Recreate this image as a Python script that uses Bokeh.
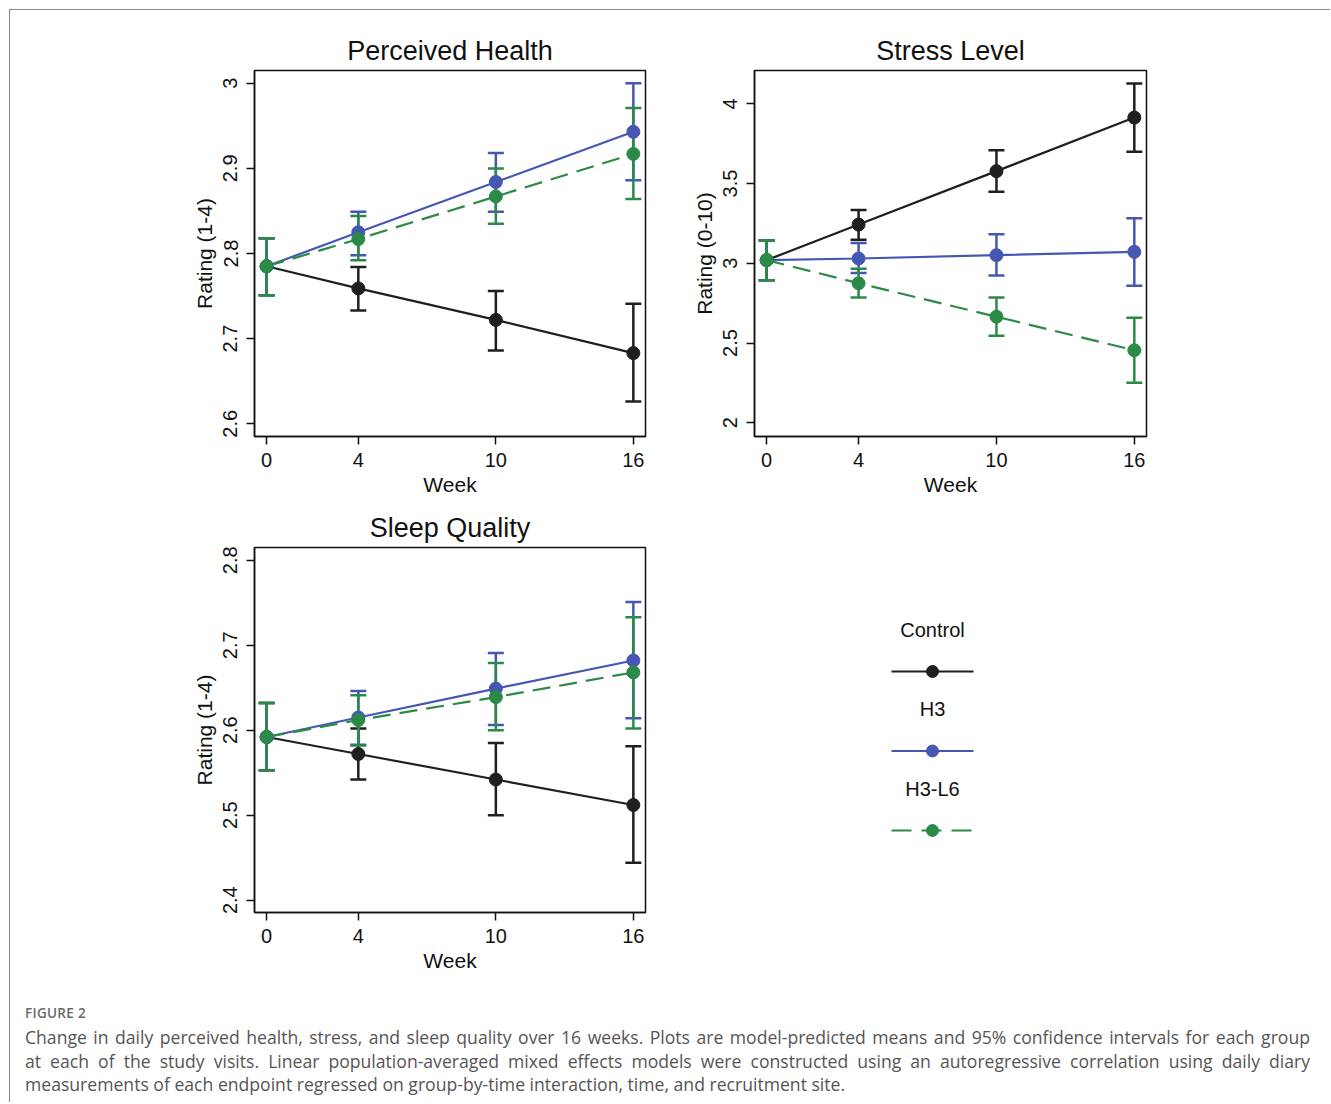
import math
from bokeh.plotting import figure
from bokeh.layouts import column, row
from bokeh.models import (ColumnDataSource, Whisker, TeeHead, Range1d, FixedTicker, Div)
from bokeh.embed import file_html
from bokeh.resources import INLINE
from bokeh.core.properties import value

# ---------------- data ----------------
weeks = [0, 4, 10, 16]
week_labels = ["0", "4", "10", "16"]
groups = ["Control", "H3", "H3-L6"]

# Perceived Health
ph_control = [2.785, 2.759, 2.722, 2.683]
ph_control_lo = [2.751, 2.733, 2.686, 2.626]
ph_control_hi = [2.818, 2.784, 2.756, 2.741]
ph_h3 = [2.785, 2.825, 2.884, 2.943]
ph_h3_lo = [2.751, 2.798, 2.849, 2.886]
ph_h3_hi = [2.818, 2.849, 2.918, 3.000]
ph_h3l6 = [2.785, 2.817, 2.867, 2.917]
ph_h3l6_lo = [2.751, 2.792, 2.835, 2.864]
ph_h3l6_hi = [2.818, 2.844, 2.900, 2.971]
ph_ticks = [2.6, 2.7, 2.8, 2.9, 3.0]
ph_tick_labels = ["2.6", "2.7", "2.8", "2.9", "3"]

# Stress Level
sl_control = [3.02, 3.243, 3.578, 3.914]
sl_control_lo = [2.894, 3.147, 3.448, 3.699]
sl_control_hi = [3.143, 3.335, 3.709, 4.127]
sl_h3 = [3.02, 3.03, 3.051, 3.072]
sl_h3_lo = [2.894, 2.94, 2.924, 2.859]
sl_h3_hi = [3.143, 3.128, 3.182, 3.283]
sl_h3l6 = [3.02, 2.875, 2.665, 2.455]
sl_h3l6_lo = [2.894, 2.786, 2.545, 2.251]
sl_h3l6_hi = [3.143, 2.966, 2.786, 2.658]
sl_ticks = [2.0, 2.5, 3.0, 3.5, 4.0]
sl_tick_labels = ["2", "2.5", "3", "3.5", "4"]

# Sleep Quality
sq_control = [2.592, 2.572, 2.542, 2.512]
sq_control_lo = [2.553, 2.542, 2.500, 2.444]
sq_control_hi = [2.632, 2.602, 2.585, 2.581]
sq_h3 = [2.592, 2.615, 2.649, 2.682]
sq_h3_lo = [2.553, 2.583, 2.606, 2.614]
sq_h3_hi = [2.632, 2.646, 2.691, 2.751]
sq_h3l6 = [2.592, 2.612, 2.639, 2.668]
sq_h3l6_lo = [2.553, 2.582, 2.600, 2.602]
sq_h3l6_hi = [2.632, 2.641, 2.679, 2.733]
sq_ticks = [2.4, 2.5, 2.6, 2.7, 2.8]
sq_tick_labels = ["2.4", "2.5", "2.6", "2.7", "2.8"]

caption_title = "FIGURE 2"
caption_lines = [
    "Change in daily perceived health, stress, and sleep quality over 16 weeks. "
    "Plots are model-predicted means and 95% confidence intervals for each group",
    "at each of the study visits. Linear population-averaged mixed effects models "
    "were constructed using an autoregressive correlation using daily diary",
    "measurements of each endpoint regressed on group-by-time interaction, time, "
    "and recruitment site.",
]

# ---------------- styles ----------------
COLORS = {"Control": "#1f1f1f", "H3": "#4657b3", "H3-L6": "#2b8a47"}
DASH = {"Control": "solid", "H3": "solid", "H3-L6": "18 9"}
FONT = "Liberation Sans"


def make_panel(title, ylabel, yr, ticks, tick_labels, series, width, height,
               mb_left, mb_right, mb_top, mb_bottom):
    p = figure(width=width, height=height, output_backend="svg", toolbar_location=None,
               x_range=Range1d(-0.53, 16.53), y_range=Range1d(*yr),
               min_border_left=mb_left, min_border_right=mb_right,
               min_border_top=mb_top, min_border_bottom=mb_bottom,
               title=title)
    p.title.text_font = FONT
    p.title.text_font_size = "27px"
    p.title.text_font_style = "normal"
    p.title.align = "center"
    p.title.text_color = "#111111"
    p.title.standoff = 10
    p.grid.visible = False
    p.outline_line_color = "#111111"
    p.outline_line_width = 1.5
    p.background_fill_color = "white"
    p.border_fill_color = "white"

    p.xaxis.ticker = FixedTicker(ticks=weeks)
    p.xaxis.major_label_overrides = {w: l for w, l in zip(weeks, week_labels)}
    p.xaxis.axis_label = "Week"
    p.yaxis.ticker = FixedTicker(ticks=ticks)
    p.yaxis.major_label_overrides = {t: l for t, l in zip(ticks, tick_labels)}
    p.yaxis.axis_label = ylabel
    p.yaxis.major_label_orientation = "parallel"
    for ax in (p.xaxis, p.yaxis):
        ax.axis_label_text_font = FONT
        ax.axis_label_text_font_size = "21px"
        ax.axis_label_text_font_style = "normal"
        ax.axis_label_text_color = "#111111"
        ax.major_label_text_font = FONT
        ax.major_label_text_font_size = "20px"
        ax.major_label_text_color = "#111111"
        ax.axis_line_color = "#111111"
        ax.axis_line_width = 1.5
        ax.major_tick_line_color = "#111111"
        ax.major_tick_line_width = 1.5
        ax.major_tick_out = 8
        ax.major_tick_in = 0
        ax.minor_tick_line_color = None
    p.xaxis.axis_label_standoff = 3
    p.xaxis.major_label_standoff = 8
    p.yaxis.axis_label_standoff = 5
    p.yaxis.major_label_standoff = 9

    for g, (mean, lo, hi) in zip(groups, series):
        c = COLORS[g]
        src = ColumnDataSource(dict(x=weeks, y=mean, lo=lo, hi=hi))
        w = Whisker(source=src, base="x", upper="hi", lower="lo",
                    line_color=c, line_width=2.5,
                    upper_head=TeeHead(size=16, line_color=c, line_width=2.5),
                    lower_head=TeeHead(size=16, line_color=c, line_width=2.5))
        p.add_layout(w)
        p.line("x", "y", source=src, line_color=c, line_width=2.2, line_dash=DASH[g])
        p.scatter("x", "y", source=src, size=13, fill_color=c, line_color=c)
    return p


# geometry (pixels)
W1, W2 = 679, 497
H1, H3 = 489, 483

p1 = make_panel("Perceived Health", "Rating (1-4)", (2.585, 3.015), ph_ticks, ph_tick_labels,
                [(ph_control, ph_control_lo, ph_control_hi),
                 (ph_h3, ph_h3_lo, ph_h3_hi),
                 (ph_h3l6, ph_h3l6_lo, ph_h3l6_hi)],
                W1, H1, 244, 44, 60, 63)
p2 = make_panel("Stress Level", "Rating (0-10)", (1.914, 4.209), sl_ticks, sl_tick_labels,
                [(sl_control, sl_control_lo, sl_control_hi),
                 (sl_h3, sl_h3_lo, sl_h3_hi),
                 (sl_h3l6, sl_h3l6_lo, sl_h3l6_hi)],
                W2, H1, 64, 40, 60, 63)
p3 = make_panel("Sleep Quality", "Rating (1-4)", (2.3855, 2.815), sq_ticks, sq_tick_labels,
                [(sq_control, sq_control_lo, sq_control_hi),
                 (sq_h3, sq_h3_lo, sq_h3_hi),
                 (sq_h3l6, sq_h3l6_lo, sq_h3l6_hi)],
                W1, H3, 244, 44, 48, 70)

# legend panel: frame aligned with the Stress Level frame; coordinates in frame pixels, y downward
FW, FH = 393, 365
pl = figure(width=W2, height=H3, output_backend="svg", toolbar_location=None,
            x_range=Range1d(0, FW), y_range=Range1d(FH, 0),
            x_axis_location=None, y_axis_location=None,
            min_border_left=64, min_border_right=40, min_border_top=48, min_border_bottom=70,
            outline_line_color=None)
pl.grid.visible = False
cx = 179
for i, g in enumerate(groups):
    ty = 82 + i * 79.5
    ly = ty + 42
    c = COLORS[g]
    pl.text(x=[cx], y=[ty], text=[g], text_align="center", text_baseline="middle",
            text_font=value(FONT), text_font_size="20px", text_color="#111111")
    pl.line(x=[cx - 41, cx + 41], y=[ly, ly], line_color=c, line_width=2.2,
            line_dash=DASH[g] if g != "H3-L6" else "20 10")
    pl.scatter(x=[cx], y=[ly], size=12, fill_color=c, line_color=c)

line_html = ""
for i, ln in enumerate(caption_lines):
    last = "justify" if i < len(caption_lines) - 1 else "left"
    line_html += ('<div style="white-space:nowrap;text-align:justify;text-align-last:%s;">%s</div>'
                  % (last, ln))

cap = Div(width=1310, text=(
    '<div style="margin-left:10px;width:1285px;font-family:\'Open Sans\',sans-serif;">'
    '<div style="margin-top:16px;font-size:13.5px;line-height:20px;color:#6a6a6a;font-weight:600;'
    'letter-spacing:0.3px;">' + caption_title + '</div>'
    '<div style="margin-top:3px;font-size:17.6px;line-height:23.5px;color:#555555;">'
    + line_html + '</div></div>'))

layout = column(row(p1, p2, spacing=0), row(p3, pl, spacing=0), cap, spacing=0,
                styles={"border-left": "1px solid #8a8a8a", "border-top": "1px solid #8a8a8a",
                        "margin-left": "9px", "margin-top": "9px", "background": "white"})

open("out.html", "w").write(file_html(layout, INLINE))
